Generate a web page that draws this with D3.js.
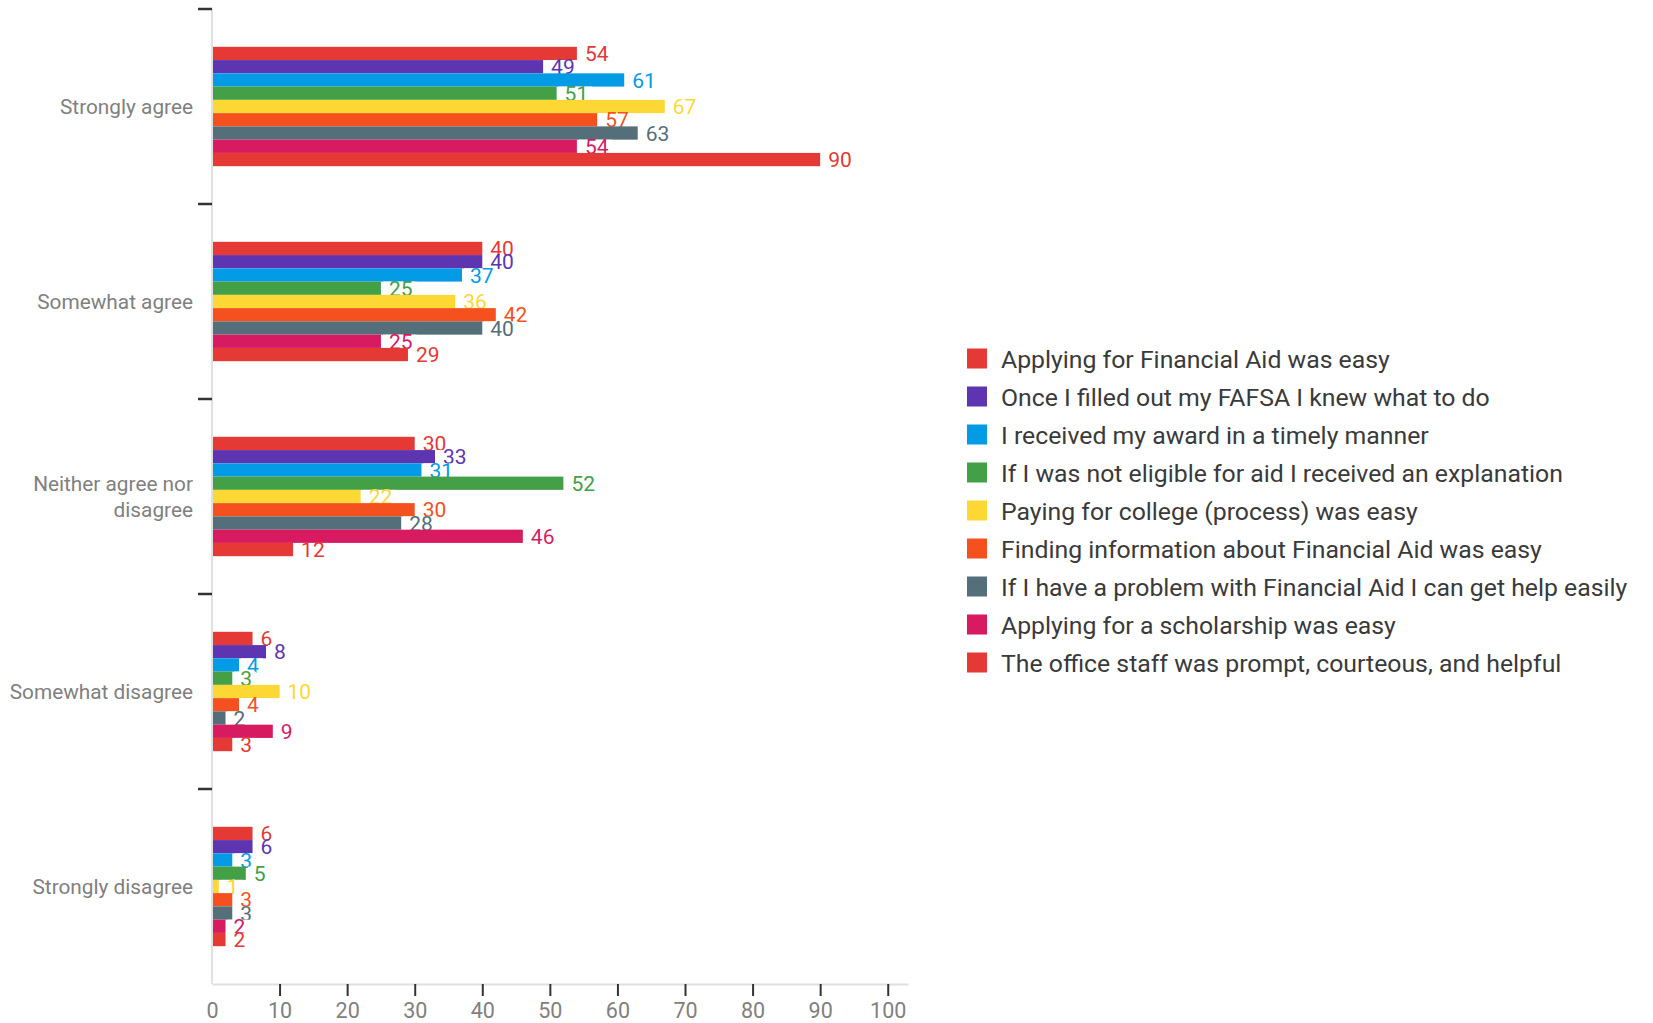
<!DOCTYPE html>
<html>
<head>
<meta charset="utf-8">
<script src="https://cdn.jsdelivr.net/npm/d3@7"></script>
<style>
  html, body { margin: 0; padding: 0; background: #fff; }
  svg { display: block; font-family: Roboto, "Liberation Sans", Arial, sans-serif; }
</style>
</head>
<body>
<svg id="chart" width="1653" height="1023"></svg>
<script>
// ---- Data ----
const categories = ["Strongly agree", "Somewhat agree", "Neither agree nor disagree", "Somewhat disagree", "Strongly disagree"];
const categoryLines = [["Strongly agree"], ["Somewhat agree"], ["Neither agree nor", "disagree"], ["Somewhat disagree"], ["Strongly disagree"]];
const seriesNames = [
  "Applying for Financial Aid was easy",
  "Once I filled out my FAFSA I knew what to do",
  "I received my award in a timely manner",
  "If I was not eligible for aid I received an explanation",
  "Paying for college (process) was easy",
  "Finding information about Financial Aid was easy",
  "If I have a problem with Financial Aid I can get help easily",
  "Applying for a scholarship was easy",
  "The office staff was prompt, courteous, and helpful"
];
const applyingFA   = [54, 40, 30, 6, 6];
const fafsa        = [49, 40, 33, 8, 6];
const awardTimely  = [61, 37, 31, 4, 3];
const explanation  = [51, 25, 52, 3, 5];
const payingEasy   = [67, 36, 22, 10, 1];
const findingInfo  = [57, 42, 30, 4, 3];
const problemHelp  = [63, 40, 28, 2, 3];
const scholarship  = [54, 25, 46, 9, 2];
const officeStaff  = [90, 29, 12, 3, 2];
const seriesValues = [applyingFA, fafsa, awardTimely, explanation, payingEasy, findingInfo, problemHelp, scholarship, officeStaff];
const seriesColors = ["#E53935", "#5E35B1", "#039BE5", "#43A047", "#FDD835", "#F4511E", "#546E7A", "#D81B60", "#E53935"];
const xTicks = [0, 10, 20, 30, 40, 50, 60, 70, 80, 90, 100];

// ---- Layout ----
const svg = d3.select("#chart");
const x = d3.scaleLinear().domain([0, 103]).range([212, 908]);
const y0 = d3.scaleBand().domain(categories).range([9, 984]).padding(0);
const y1 = d3.scaleBand().domain(seriesNames).range([0, y0.bandwidth()]).paddingInner(0).paddingOuter(2.85);
const color = d3.scaleOrdinal().domain(seriesNames).range(seriesColors);

const labelFont = 21;

// Axes (drawn first)
const axisG = svg.append("g");
axisG.append("line")
  .attr("x1", x(0)).attr("x2", x(0))
  .attr("y1", y0.range()[0]).attr("y2", y0.range()[1])
  .attr("stroke", "#e0e0e0").attr("stroke-width", 2);
axisG.selectAll(".ltick").data(categories).join("line")
  .attr("class", "ltick")
  .attr("x1", x(0) - 14).attr("x2", x(0))
  .attr("y1", d => y0(d)).attr("y2", d => y0(d))
  .attr("stroke", "#333").attr("stroke-width", 2.5);

const bottom = svg.append("g")
  .attr("transform", `translate(0,${y0.range()[1]})`)
  .call(d3.axisBottom(x).tickValues(xTicks).tickSize(12).tickSizeOuter(0).tickFormat(d3.format("d")));
bottom.select(".domain").attr("stroke", "#e0e0e0").attr("stroke-width", 2);
bottom.selectAll(".tick line").attr("stroke", "#333").attr("stroke-width", 2)
  .attr("display", d => d === 0 ? "none" : null);
bottom.selectAll(".tick text")
  .attr("y", 34).attr("dy", 0)
  .attr("fill", "#808080")
  .style("font-size", "21.5px")
  .style("font-family", "Roboto, sans-serif");

// category labels
const catG = svg.append("g");
categories.forEach((c, i) => {
  const lines = categoryLines[i];
  const cy = y0(c) + y0.bandwidth() / 2;
  const lh = 26;
  const t = catG.append("text")
    .attr("text-anchor", "end")
    .attr("fill", "#808080")
    .style("font-size", "20.8px");
  lines.forEach((ln, j) => {
    t.append("tspan")
      .attr("x", 193)
      .attr("y", cy + (j - (lines.length - 1) / 2) * lh)
      .attr("dy", "0.35em")
      .text(ln);
  });
});

// bars and value labels per series, in order
const plot = svg.append("g");
seriesNames.forEach((s, si) => {
  const g = plot.append("g");
  const vals = seriesValues[si];
  const rows = categories.map((c, ci) => ({ c, v: vals[ci] }));
  g.selectAll("rect.bar").data(rows).join("rect")
    .attr("class", "bar")
    .attr("x", x(0) + 1)
    .attr("y", d => y0(d.c) + y1(s))
    .attr("width", d => x(d.v) - x(0) - 1)
    .attr("height", y1.bandwidth())
    .attr("fill", color(s));
  const lbl = g.selectAll("g.lbl").data(rows).join("g").attr("class", "lbl");
  lbl.append("text")
    .attr("x", d => x(d.v) + 8)
    .attr("y", d => y0(d.c) + y1(s) + y1.bandwidth() / 2)
    .attr("dy", "0.36em")
    .attr("fill", color(s))
    .style("font-size", labelFont + "px")
    .text(d => d.v);
  lbl.each(function(d) {
    const t = d3.select(this).select("text");
    const w = t.node().getComputedTextLength();
    d3.select(this).insert("rect", "text")
      .attr("x", x(d.v) + 2)
      .attr("y", y0(d.c) + y1(s))
      .attr("width", w + 10)
      .attr("height", y1.bandwidth())
      .attr("fill", "#fff");
  });
});

// legend
const legend = svg.append("g");
const lgY = d3.scalePoint().domain(seriesNames).range([358.5, 662.5]);
seriesNames.forEach(s => {
  legend.append("rect")
    .attr("x", 967).attr("y", lgY(s) - 10)
    .attr("width", 20).attr("height", 20)
    .attr("fill", color(s));
  legend.append("text")
    .attr("x", 1001).attr("y", lgY(s))
    .attr("dy", "0.37em")
    .attr("fill", "#3a3a3a")
    .style("font-size", "24.8px")
    .text(s);
});
</script>
</body>
</html>
